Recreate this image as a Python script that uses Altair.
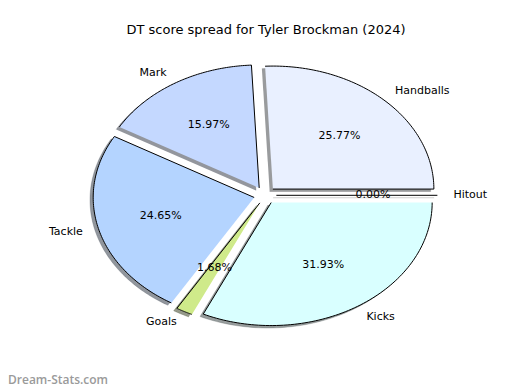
import altair as alt
import pandas as pd

# ---- data ----
labels = ["Handballs", "Mark", "Tackle", "Goals", "Kicks", "Hitout"]
values = [25.77, 15.97, 24.65, 1.68, 31.93, 0.00]
colors = ["#e9f0ff", "#c4d8ff", "#b4d4ff", "#cfea8a", "#d9ffff", "#b0b0b0"]
title_text = "DT score spread for Tyler Brockman (2024)"
watermark = ["Dream-Stats.com"]

# ---- style / geometry settings ----
EXPLODE = 0.07
LABEL_DIST = 1.1
PCT_DIST = 0.6
SHADOW = 0.02
N = 90
XMIN, XMAX = -1.5969, 1.5335
YMIN, YMAX = -1.5179, 1.1976
W, H = 504, 334


def shade(h):
    r, g, b = int(h[1:3], 16), int(h[3:5], 16), int(h[5:7], 16)
    return "#%02x%02x%02x" % (int(r * 0.3), int(g * 0.3), int(b * 0.3))


df = pd.DataFrame({
    "label": labels,
    "value": values,
    "color": colors,
    "shadow": [shade(c) for c in colors],
    "idx": list(range(len(labels))),
})

xs = alt.Scale(domain=[XMIN, XMAX], nice=False, zero=False)
ys = alt.Scale(domain=[YMIN, YMAX], nice=False, zero=False)

base = (
    alt.Chart(df)
    .transform_window(cum="sum(value)", sort=[alt.SortField("idx")], frame=[None, 0])
    .transform_joinaggregate(total="sum(value)")
    .transform_calculate(
        start="2*PI*(datum.cum - datum.value)/datum.total",
        end="2*PI*datum.cum/datum.total",
    )
    .transform_calculate(mid="(datum.start + datum.end)/2")
    .transform_calculate(
        ox=f"{EXPLODE}*cos(datum.mid)",
        oy=f"{EXPLODE}*sin(datum.mid)",
    )
)

pts = (
    base.transform_calculate(steps=f"sequence(-1, {N + 1})")
    .transform_flatten(["steps"], as_=["step"])
    .transform_calculate(ang=f"datum.start + (datum.end - datum.start)*max(datum.step, 0)/{N}")
    .transform_calculate(
        px="datum.ox + (datum.step < 0 ? 0 : cos(datum.ang))",
        py="datum.oy + (datum.step < 0 ? 0 : sin(datum.ang))",
    )
)

enc = dict(
    x=alt.X("sx:Q", scale=xs, axis=None),
    y=alt.Y("sy:Q", scale=ys, axis=None),
    order=alt.Order("step:Q"),
    detail=alt.Detail("label:N"),
)

shadow = (
    pts.transform_calculate(sx=f"datum.px - {SHADOW}", sy=f"datum.py - {SHADOW}")
    .mark_line(fillOpacity=0.55, strokeOpacity=0.3, strokeWidth=0.8, strokeJoin="round")
    .encode(fill=alt.Fill("shadow:N", scale=None), stroke=alt.Stroke("shadow:N", scale=None), **enc)
)

wedges = (
    pts.transform_calculate(sx="datum.px", sy="datum.py")
    .mark_line(stroke="black", strokeWidth=1.0, strokeJoin="round")
    .encode(fill=alt.Fill("color:N", scale=None), **enc)
)

lab = base.transform_calculate(
    lx=f"datum.ox + {LABEL_DIST}*cos(datum.mid)",
    ly=f"datum.oy + {LABEL_DIST}*sin(datum.mid)",
)
lab_enc = dict(
    x=alt.X("lx:Q", scale=xs, axis=None),
    y=alt.Y("ly:Q", scale=ys, axis=None),
    text="label:N",
)
txt = dict(font="DejaVu Sans", fontSize=11, color="black", baseline="middle")
labels_r = lab.transform_filter("datum.lx > 0").mark_text(align="left", **txt).encode(**lab_enc)
labels_l = lab.transform_filter("datum.lx <= 0").mark_text(align="right", **txt).encode(**lab_enc)

pct = base.transform_calculate(
    qx=f"datum.ox + {PCT_DIST}*cos(datum.mid)",
    qy=f"datum.oy + {PCT_DIST}*sin(datum.mid)",
    pct="format(datum.value/datum.total*100, '.2f') + '%'",
).mark_text(align="center", **txt).encode(
    x=alt.X("qx:Q", scale=xs, axis=None),
    y=alt.Y("qy:Q", scale=ys, axis=None),
    text="pct:N",
)

wm = alt.Chart(pd.DataFrame({"t": watermark})).mark_text(
    align="left", baseline="alphabetic", font="Open Sans", fontWeight=600,
    fontSize=12, color="#9a9a9a",
).encode(x=alt.value(0), y=alt.value(H + 2), text="t:N")

chart = (
    alt.layer(shadow, wedges, labels_r, labels_l, pct, wm)
    .properties(
        width=W,
        height=H,
        autosize=alt.AutoSizeParams(type="none"),
        padding={"top": 40, "bottom": 8, "left": 0, "right": 0},
        title=alt.TitleParams(
            title_text, font="DejaVu Sans", fontSize=13, fontWeight="normal",
            color="black", anchor="middle", frame="group", offset=11, dx=6,
        ),
    )
    .configure_view(stroke=None)
)

chart.save("out.html", embed_options={"renderer": "svg", "actions": False})
